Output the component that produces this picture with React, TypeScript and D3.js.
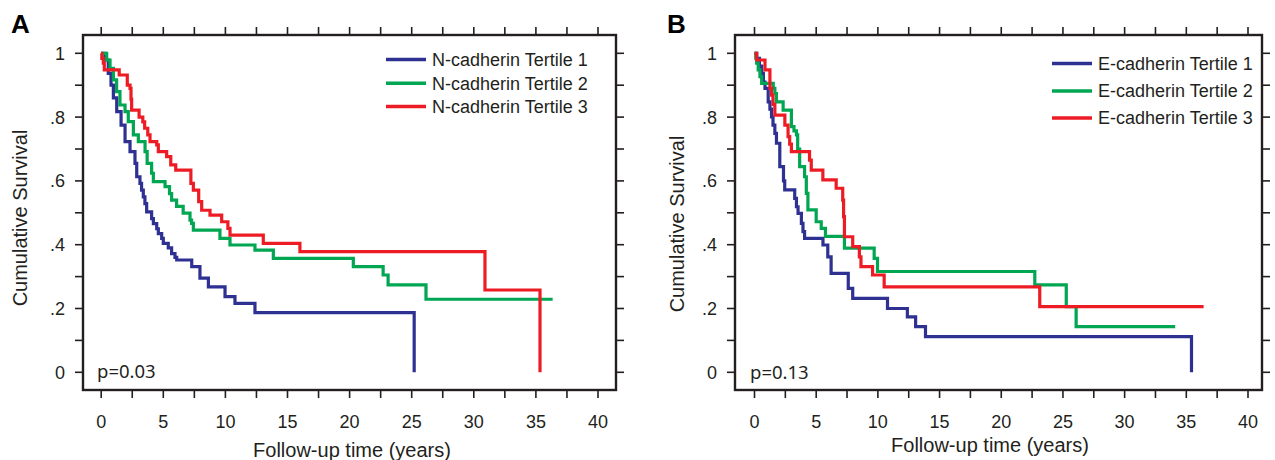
import React from "react";
import * as d3 from "d3";

// survival steps: [time in years, survival after the drop]
const nCadT1 = [
  [0.3, 0.979], [0.57, 0.937], [0.79, 0.9], [0.98, 0.86], [1.25, 0.817], [1.6, 0.775],
  [1.92, 0.723], [2.32, 0.692], [2.72, 0.655], [2.86, 0.613], [3.12, 0.592], [3.25, 0.571],
  [3.39, 0.55], [3.52, 0.529], [3.66, 0.503], [4.06, 0.482], [4.2, 0.466], [4.47, 0.45],
  [4.6, 0.435], [4.87, 0.42], [5.0, 0.404], [5.4, 0.39], [5.67, 0.372], [5.94, 0.36],
  [6.08, 0.352], [7.29, 0.331], [7.95, 0.295], [8.63, 0.268], [9.97, 0.237], [10.77, 0.216],
  [12.38, 0.187], [25.2, 0],
];
const nCadT2 = [
  [0.44, 0.979], [0.71, 0.953], [0.98, 0.917], [1.24, 0.88], [1.51, 0.838], [1.92, 0.817],
  [2.18, 0.786], [2.59, 0.744], [2.99, 0.723], [3.53, 0.692], [3.7, 0.655], [4.06, 0.624],
  [4.2, 0.598], [5.14, 0.582], [5.5, 0.56], [5.67, 0.54], [6.07, 0.52], [6.6, 0.499],
  [7.15, 0.477], [7.28, 0.467], [7.42, 0.446], [9.56, 0.42], [10.37, 0.399], [12.38, 0.383],
  [13.86, 0.357], [20.3, 0.331], [22.7, 0.305], [23.1, 0.274], [26.15, 0.229],
];
const nCadT3 = [
  [0.05, 0.984], [0.17, 0.969], [0.25, 0.948], [1.45, 0.932], [2.1, 0.9], [2.32, 0.89],
  [2.4, 0.856], [2.45, 0.822], [3.05, 0.8], [3.35, 0.785], [3.5, 0.765], [3.75, 0.744],
  [3.93, 0.723], [4.47, 0.713], [4.6, 0.692], [5.27, 0.676], [5.6, 0.65], [6.0, 0.634],
  [7.22, 0.592], [7.42, 0.571], [7.85, 0.535], [8.09, 0.508], [8.76, 0.493], [9.7, 0.472],
  [10.2, 0.451], [10.37, 0.43], [13.05, 0.404], [16.0, 0.378], [30.9, 0.258], [35.33, 0],
];
const nCadEnds = [25.2, 36.35, 35.33];

const eCadT1 = [
  [0.18, 0.984], [0.4, 0.96], [0.58, 0.937], [0.72, 0.91], [0.85, 0.89], [1.11, 0.848],
  [1.25, 0.825], [1.38, 0.801], [1.5, 0.775], [1.65, 0.749], [1.78, 0.718], [2.05, 0.645],
  [2.35, 0.6], [2.45, 0.572], [3.26, 0.545], [3.4, 0.519], [3.53, 0.498], [3.8, 0.467],
  [3.93, 0.441], [4.06, 0.42], [5.55, 0.399], [5.94, 0.362], [6.21, 0.31], [7.6, 0.263],
  [7.96, 0.232], [10.78, 0.2], [12.39, 0.174], [13.06, 0.143], [13.86, 0.112], [35.42, 0],
];
const eCadT2 = [
  [0.1, 0.985], [0.175, 0.969], [0.3, 0.948], [0.44, 0.927], [0.58, 0.906], [1.52, 0.89],
  [1.65, 0.874], [1.78, 0.848], [2.32, 0.822], [2.99, 0.77], [3.2, 0.757], [3.4, 0.744],
  [3.5, 0.7], [3.66, 0.645], [4.06, 0.613], [4.2, 0.561], [4.33, 0.509], [5.0, 0.472],
  [5.41, 0.451], [5.75, 0.426], [7.29, 0.389], [9.7, 0.357], [9.97, 0.316], [22.72, 0.274],
  [25.27, 0.206], [26.07, 0.143],
];
const eCadT3 = [
  [0.17, 0.979], [0.85, 0.948], [1.25, 0.89], [1.38, 0.869], [1.5, 0.84], [1.65, 0.806],
  [2.46, 0.775], [2.72, 0.739], [2.85, 0.715], [2.99, 0.692], [4.46, 0.665], [4.6, 0.634],
  [5.54, 0.603], [6.62, 0.577], [7.15, 0.54], [7.22, 0.488], [7.29, 0.425], [7.96, 0.394],
  [8.5, 0.362], [8.63, 0.331], [9.57, 0.305], [10.51, 0.268], [23.12, 0.206],
];
const eCadEnds = [35.42, 34.1, 36.4];

const nCadNames = ["N-cadherin Tertile 1", "N-cadherin Tertile 2", "N-cadherin Tertile 3"];
const eCadNames = ["E-cadherin Tertile 1", "E-cadherin Tertile 2", "E-cadherin Tertile 3"];
const pValues = ["p=0.03", "p=0.13"];

const xTicks = d3.range(0, 40.001, 2.5);
const xLabels = [0, 5, 10, 15, 20, 25, 30, 35, 40];
const yTicks = d3.range(0, 1.0001, 0.1);
const yLabels = [0, 0.2, 0.4, 0.6, 0.8, 1];
const yLabelText = ["0", ".2", ".4", ".6", ".8", "1"];

const colors = ["#2e3192", "#00a651", "#ed1c24"];
const font = "'Liberation Sans', Arial, Helvetica, sans-serif";

type Geo = {
  letter: string; letterX: number;
  left: number; right: number; x0: number; x40: number;
  legX: number; legY: number[]; pX: number; pY: number;
  yTitleX: number; yTitleY: number; xTitleX: number; xTitleY: number;
};

const top = 35, bottom = 390;

const Panel = ({ g, curves, ends, names, p }: { g: Geo; curves: number[][][]; ends: number[]; names: string[]; p: string }) => {
  const x = d3.scaleLinear().domain([0, 40]).range([g.x0, g.x40]);
  const y = d3.scaleLinear().domain([0, 1]).range([372.3, 53.3]);
  const line = d3.line<number[]>().x(d => x(d[0])).y(d => y(d[1])).curve(d3.curveStepAfter);

  return (
    <g>
      <text x={g.letterX} y={33} fontSize={26} fontWeight="bold" fontFamily={font}>{g.letter}</text>

      {/* ticks, all four sides, outward */}
      {xTicks.map(t => (
        <g key={"x" + t}>
          <line x1={x(t)} x2={x(t)} y1={top} y2={top - 8} stroke="#231f20" strokeWidth={1.6} />
          <line x1={x(t)} x2={x(t)} y1={bottom} y2={bottom + 8} stroke="#231f20" strokeWidth={1.6} />
        </g>
      ))}
      {yTicks.map(t => (
        <g key={"y" + t}>
          <line x1={g.left} x2={g.left - 8} y1={y(t)} y2={y(t)} stroke="#231f20" strokeWidth={1.6} />
          <line x1={g.right} x2={g.right + 8} y1={y(t)} y2={y(t)} stroke="#231f20" strokeWidth={1.6} />
        </g>
      ))}
      <rect x={g.left} y={top} width={g.right - g.left} height={bottom - top} fill="none" stroke="#231f20" strokeWidth={2.4} />

      {xLabels.map(t => (
        <text key={"xl" + t} x={x(t)} y={428} textAnchor="middle" fontSize={18} fontFamily={font} fill="#231f20">{t}</text>
      ))}
      {yLabels.map((t, i) => (
        <text key={"yl" + t} x={g.left - 18} y={y(t)} dy="0.36em" textAnchor="end" fontSize={18} fontFamily={font} fill="#231f20">{yLabelText[i]}</text>
      ))}

      <text x={g.xTitleX} y={g.xTitleY} textAnchor="middle" fontSize={20} fontFamily={font} fill="#231f20">Follow-up time (years)</text>
      <text transform={`translate(${g.yTitleX},${g.yTitleY}) rotate(-90)`} textAnchor="middle" fontSize={20} fontFamily={font} fill="#231f20">Cumulative Survival</text>

      {curves.map((c, i) => {
        const pts = [[0, 1], ...c];
        const last = pts[pts.length - 1];
        if (ends[i] > last[0]) pts.push([ends[i], last[1]]);
        return <path key={"c" + i} d={line(pts) || ""} fill="none" stroke={colors[i]} strokeWidth={3.2} />;
      })}

      {names.map((n, i) => (
        <g key={n}>
          <line x1={g.legX} x2={g.legX + 40} y1={g.legY[i]} y2={g.legY[i]} stroke={colors[i]} strokeWidth={3.4} />
          <text x={g.legX + 46} y={g.legY[i]} dy="0.36em" fontSize={18} fontFamily={font} fill="#231f20">{n}</text>
        </g>
      ))}

      <text x={g.pX} y={g.pY} fontSize={18.5} fontFamily="'Noto Sans', 'Open Sans', sans-serif" fill="#231f20">{p}</text>
    </g>
  );
};

const geoA: Geo = {
  letter: "A", letterX: 11, left: 83, right: 616, x0: 101.2, x40: 598,
  legX: 386, legY: [59.5, 83.3, 106.5], pX: 97, pY: 378,
  yTitleX: 27, yTitleY: 218, xTitleX: 352, xTitleY: 457,
};
const geoB: Geo = {
  letter: "B", letterX: 667, left: 735, right: 1262, x0: 754.5, x40: 1248,
  legX: 1052, legY: [63.5, 91, 118], pX: 750, pY: 379,
  yTitleX: 684, yTitleY: 224, xTitleX: 990, xTitleY: 452,
};

export default function App() {
  return (
    <svg width={1275} height={460} style={{ position: "absolute", left: 0, top: 0, background: "#fff" }}>
      <Panel g={geoA} curves={[nCadT1, nCadT2, nCadT3]} ends={nCadEnds} names={nCadNames} p={pValues[0]} />
      <Panel g={geoB} curves={[eCadT1, eCadT2, eCadT3]} ends={eCadEnds} names={eCadNames} p={pValues[1]} />
    </svg>
  );
}
